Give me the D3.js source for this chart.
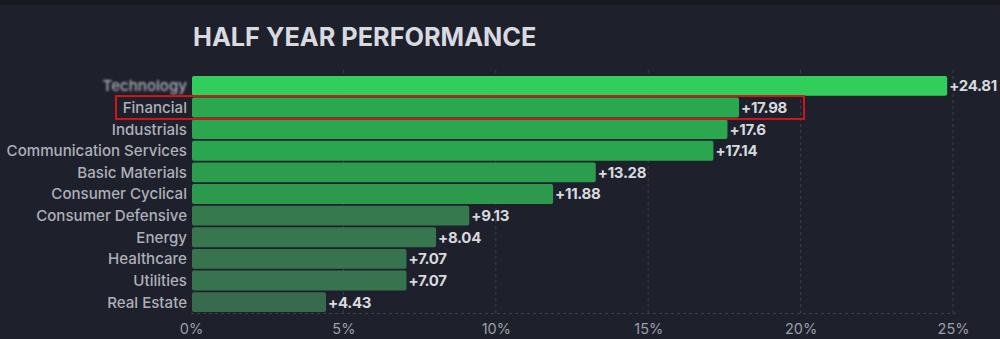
<!DOCTYPE html>
<html>
<head>
<meta charset="utf-8">
<script src="https://cdn.jsdelivr.net/npm/d3@7"></script>
<style>
  html, body { margin: 0; padding: 0; background: #1e212c; }
  svg { display: block; }
</style>
</head>
<body>
<svg id="chart" width="1000" height="339"></svg>
<script>
// Sector performance over the last six months (percent)
const sectors = [
  "Technology", "Financial", "Industrials", "Communication Services",
  "Basic Materials", "Consumer Cyclical", "Consumer Defensive",
  "Energy", "Healthcare", "Utilities", "Real Estate"
];
const performance = [24.81, 17.98, 17.6, 17.14, 13.28, 11.88, 9.13, 8.04, 7.07, 7.07, 4.43];
const xTicks = [0, 5, 10, 15, 20, 25];
const highlighted = "Financial";
const blurred = "Technology";

const svg = d3.select("#chart");
const W = 1000, H = 339;
const FONT = "Inter, 'Noto Sans', sans-serif";

svg.append("rect").attr("width", W).attr("height", H).attr("fill", "#1e212c");
svg.append("rect").attr("width", W).attr("height", 5).attr("fill", "#17191f");

const defs = svg.append("defs");
defs.append("filter").attr("id", "soft")
  .attr("x", "-10%").attr("y", "-50%").attr("width", "120%").attr("height", "200%")
  .append("feGaussianBlur").attr("stdDeviation", 1.3);

const x = d3.scaleLinear().domain([0, 25]).range([191, 953]);
const y = d3.scaleBand().domain(sectors).range([75.5, 312.5]).paddingInner(0.08).paddingOuter(0.02);

const color = d3.scaleLinear()
  .domain([4.43, 7.07, 9.13, 11.88, 17.98, 24.81])
  .range(["#386a4f", "#387350", "#36794d", "#2d994c", "#2aa84f", "#31ce5b"]);

// Title
svg.append("text")
  .attr("x", 193).attr("y", 46)
  .attr("font-family", FONT)
  .attr("font-weight", 700).attr("font-size", 25.3)
  .attr("fill", "#d9dae0")
  .text("HALF YEAR PERFORMANCE");

// Dashed grid lines
const grid = svg.append("g");
grid.selectAll("line.v").data(xTicks.slice(1)).join("line")
  .attr("x1", d => x(d)).attr("x2", d => x(d))
  .attr("y1", 70).attr("y2", 313)
  .attr("stroke", "#3a3e4b").attr("stroke-width", 1).attr("stroke-dasharray", "3,3");
grid.append("line")
  .attr("x1", x(0)).attr("x2", x(25) + 4)
  .attr("y1", 313.5).attr("y2", 313.5)
  .attr("stroke", "#3a3e4b").attr("stroke-dasharray", "3,3");

// Bars
const rows = sectors.map((s, i) => ({ sector: s, value: performance[i] }));
svg.append("g").selectAll("rect").data(rows).join("rect")
  .attr("x", x(0) + 1)
  .attr("y", d => y(d.sector))
  .attr("width", d => x(d.value) - x(0) - 1)
  .attr("height", y.bandwidth())
  .attr("rx", 2)
  .attr("fill", d => color(d.value));

// Value labels
svg.append("g").selectAll("text").data(rows).join("text")
  .attr("x", d => x(d.value) + 2)
  .attr("y", d => y(d.sector) + y.bandwidth() / 2)
  .attr("dy", "0.36em")
  .attr("font-family", FONT)
  .attr("font-weight", 700).attr("font-size", 15)
  .attr("letter-spacing", -0.3)
  .attr("fill", "#d8d9de")
  .text(d => "+" + d.value);

// Category labels
const yAxis = d3.axisLeft(y).tickSize(0).tickPadding(3);
const ya = svg.append("g").attr("transform", `translate(${x(0) - 1},0)`).call(yAxis);
ya.select(".domain").remove();
ya.selectAll("text")
  .attr("font-family", FONT)
  .attr("font-size", 15.1)
  .attr("font-weight", 500)
  .attr("dy", "0.36em")
  .attr("fill", "#aeb0b9")
  .attr("filter", d => d === blurred ? "url(#soft)" : null);

// X axis
const xAxis = d3.axisBottom(x).tickValues(xTicks).tickSize(0).tickPadding(6).tickFormat(d => d + "%");
const xa = svg.append("g").attr("transform", "translate(0,318)").call(xAxis);
xa.select(".domain").remove();
xa.selectAll("text")
  .attr("font-family", FONT)
  .attr("font-size", 14.5)
  .attr("fill", "#9c9ea8");

// Highlight frame around the selected sector row
const hv = performance[sectors.indexOf(highlighted)];
svg.append("rect")
  .attr("x", 116)
  .attr("y", y(highlighted) - 1.5)
  .attr("width", x(hv) + 65 - 116)
  .attr("height", y.bandwidth() + 3)
  .attr("fill", "none")
  .attr("stroke", "#d0161a")
  .attr("stroke-width", 2);
</script>
</body>
</html>
